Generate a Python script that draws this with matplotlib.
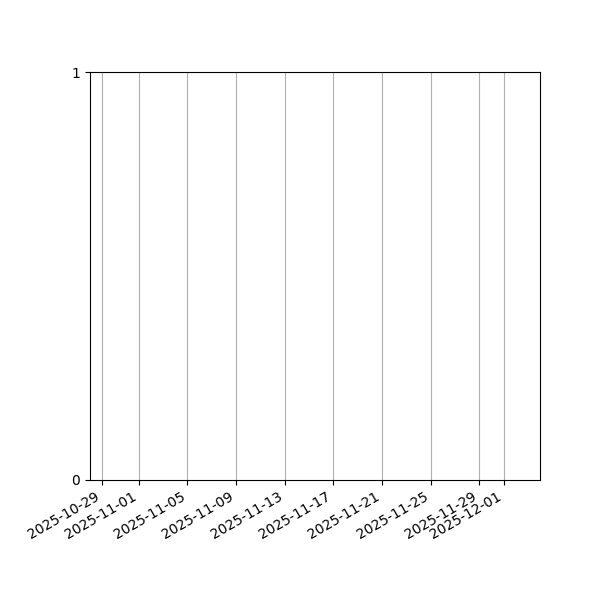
import matplotlib
matplotlib.use("Agg")
import matplotlib.pyplot as plt
import matplotlib.dates as mdates
import pandas as pd

# visible date range of the (empty) chart
date_start = "2025-10-28"
date_end = "2025-12-04"
y_ticks = [0, 1]

fig, ax = plt.subplots(figsize=(6, 6), dpi=100)

ax.set_xlim(pd.Timestamp(date_start), pd.Timestamp(date_end))
ax.set_ylim(0, 1)
ax.set_yticks(y_ticks)

locator = mdates.AutoDateLocator()
ax.xaxis.set_major_locator(locator)
ax.xaxis.set_major_formatter(mdates.DateFormatter("%Y-%m-%d"))
ax.grid(True, axis="x")

fig.autofmt_xdate()
fig.subplots_adjust(left=0.15, bottom=0.2, right=0.9, top=0.88)
fig.savefig("out.png", dpi=100)
